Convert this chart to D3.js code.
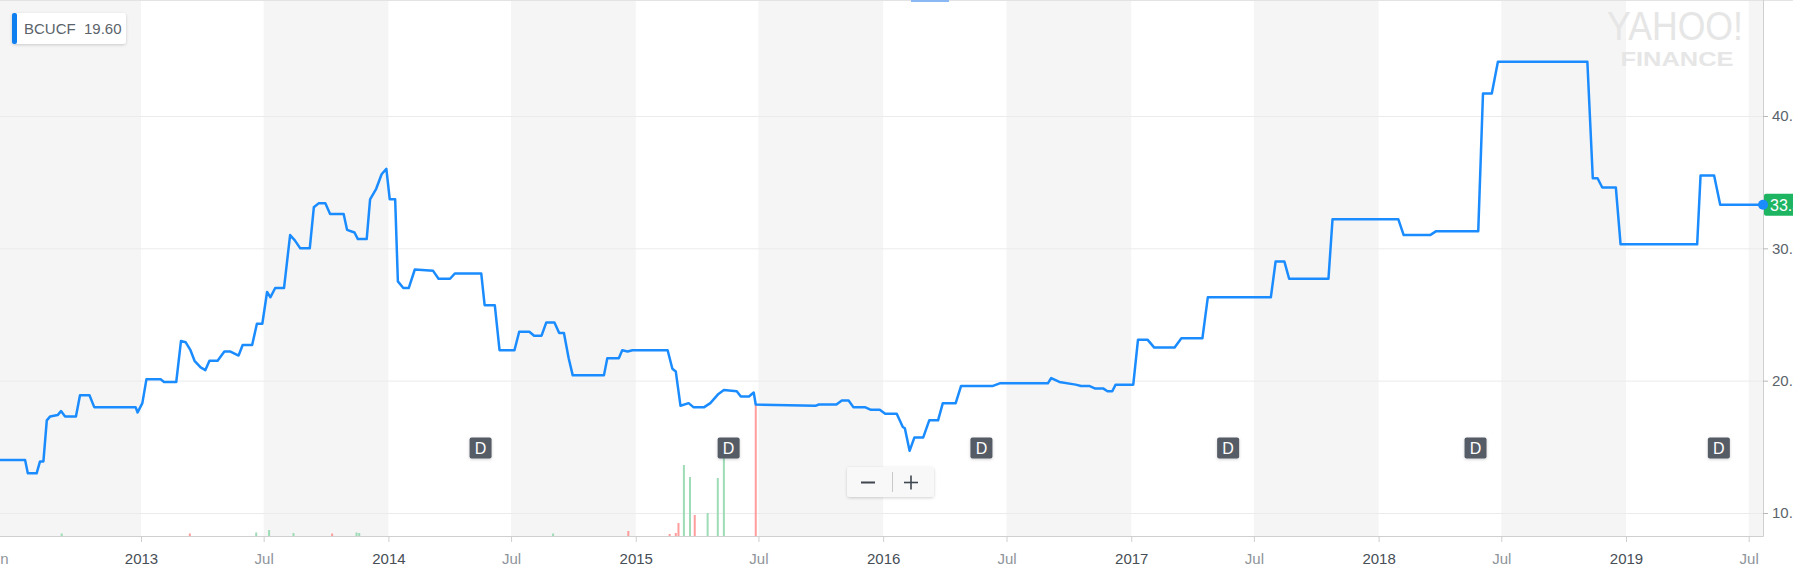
<!DOCTYPE html>
<meta charset="utf-8">
<style>
  body { margin: 0; background: #fff; overflow: hidden; }
  svg { font-family: "Helvetica Neue", Helvetica, Arial, "Liberation Sans", sans-serif; }
</style>
<script src="https://d3js.org/d3.v7.min.js"></script>
<div id="chart"></div>
<script>

  // price (step changes only)
  var priceDates = ["2012-06-07","2012-07-14","2012-07-18","2012-07-31","2012-08-05","2012-08-10","2012-08-15","2012-08-20","2012-08-31","2012-09-05","2012-09-11","2012-09-27","2012-10-03","2012-10-17","2012-10-24","2012-12-24","2012-12-27",
    "2013-01-03","2013-01-09","2013-01-30","2013-02-04","2013-02-22","2013-03-01","2013-03-08","2013-03-15","2013-03-21","2013-03-30","2013-04-06","2013-04-12","2013-04-24","2013-05-04","2013-05-13","2013-05-25","2013-05-31","2013-06-14","2013-06-21","2013-06-29","2013-07-06","2013-07-11","2013-07-18","2013-07-31","2013-08-09","2013-08-16","2013-08-24","2013-09-07","2013-09-13","2013-09-20","2013-09-30","2013-10-07","2013-10-27","2013-11-01","2013-11-12","2013-11-17","2013-11-30","2013-12-05","2013-12-14","2013-12-22","2013-12-29",
    "2014-01-03","2014-01-11","2014-01-15","2014-01-23","2014-01-31","2014-02-09","2014-03-08","2014-03-16","2014-04-02","2014-04-09","2014-05-18","2014-05-23","2014-06-07","2014-06-14","2014-07-06","2014-07-13","2014-07-28","2014-08-04","2014-08-15","2014-08-22","2014-09-03","2014-09-10","2014-09-17","2014-09-24","2014-09-30","2014-11-15","2014-11-20","2014-12-07","2014-12-12","2014-12-20","2014-12-27",
    "2015-02-17","2015-02-24","2015-03-01","2015-03-08","2015-03-20","2015-03-27","2015-04-12","2015-04-21","2015-05-03","2015-05-11","2015-05-30","2015-06-05","2015-06-17","2015-06-24","2015-06-27","2015-09-23","2015-09-28","2015-10-24","2015-11-01","2015-11-11","2015-11-18","2015-12-05","2015-12-14","2015-12-27",
    "2016-01-04","2016-01-21","2016-01-30","2016-02-02","2016-02-09","2016-02-16","2016-02-29","2016-03-09","2016-03-22","2016-03-29","2016-04-17","2016-04-25","2016-06-11","2016-06-21","2016-08-31","2016-09-05","2016-09-17","2016-10-11","2016-10-19","2016-10-31","2016-11-09","2016-11-21","2016-11-27","2016-12-04","2016-12-09",
    "2017-01-04","2017-01-11","2017-01-25","2017-02-04","2017-03-06","2017-03-16","2017-04-16","2017-04-24","2017-07-26","2017-08-02","2017-08-15","2017-08-22","2017-10-19","2017-10-25",
    "2018-01-30","2018-02-07","2018-03-18","2018-03-27","2018-05-28","2018-06-04","2018-06-17","2018-06-26","2018-11-05","2018-11-13","2018-11-20","2018-11-27","2018-12-17","2018-12-24",
    "2019-04-16","2019-04-21","2019-05-11","2019-05-20","2019-07-22"]
  var priceValues = [14.0,14.0,13.0,13.0,13.9,13.9,17.0,17.3,17.4,17.7,17.3,17.3,18.9,18.9,18.0,18.0,17.6,
    18.3,20.1,20.1,19.9,19.9,23.0,22.9,22.3,21.5,21.0,20.8,21.5,21.5,22.2,22.2,21.9,22.7,22.7,24.3,24.3,26.7,26.3,27.0,27.0,31.0,30.6,30.0,30.0,33.1,33.4,33.4,32.6,32.6,31.4,31.2,30.7,30.7,33.7,34.5,35.6,36.0,
    33.7,33.7,27.5,27.0,27.0,28.4,28.3,27.7,27.7,28.1,28.1,25.7,25.7,22.3,22.3,23.7,23.7,23.4,23.4,24.4,24.4,23.6,23.6,21.7,20.4,20.4,21.7,21.7,22.3,22.2,22.3,
    22.3,20.9,20.7,18.1,18.3,18.0,18.0,18.3,19.0,19.3,19.2,18.8,18.8,19.1,18.2,18.1,18.2,18.2,18.5,18.5,18.0,18.0,17.8,17.8,
    17.5,17.5,16.5,16.4,14.7,15.7,15.7,17.0,17.0,18.3,18.3,19.6,19.6,19.8,19.8,20.2,19.9,19.7,19.6,19.6,19.4,19.4,19.2,19.2,19.7,
    19.7,23.1,23.1,22.5,22.5,23.2,23.2,26.3,26.3,29.0,29.0,27.7,27.7,32.2,
    32.2,31.0,31.0,31.3,31.3,41.7,41.7,44.1,44.1,35.3,35.3,34.6,34.6,30.3,
    30.3,35.5,35.5,33.3,33.3]

  // volume bars (1 = up day, 0 = down day)
  var volDates = ["2012-09-06","2013-03-14","2013-06-20","2013-07-09","2013-08-14","2013-10-10","2013-11-15","2013-11-19","2014-09-01","2014-12-21",
    "2015-02-20","2015-03-01","2015-03-05","2015-03-13","2015-03-22","2015-03-29","2015-04-17","2015-05-02","2015-05-11","2015-06-27"]
  var volValues = [250,250,350,600,300,250,350,300,250,500,
    200,300,1300,7100,5900,2100,2300,5800,9600,13300]
  var volUp = [1,0,1,1,1,0,1,1,1,0,
    0,0,0,1,1,0,1,1,1,0]

  var dividendDates = ["2014-05-17","2015-05-18","2016-05-25","2017-05-24","2018-05-24","2019-05-18"]

  var xTickDates = ["2012-06-01","2013-01-01","2013-07-01","2014-01-01","2014-07-01","2015-01-01","2015-07-01","2016-01-01","2016-07-01","2017-01-01","2017-07-01","2018-01-01","2018-07-01","2019-01-01","2019-07-01"]
  var xTickLabels = ["Jun","2013","Jul","2014","Jul","2015","Jul","2016","Jul","2017","Jul","2018","Jul","2019","Jul"]
  var yTicks = [10, 20, 30, 40]

  var symbol = "BCUCF"
  var legendValue = "19.60"
  var lastPrice = 33.3

  var width = 1793, height = 568
  var plotRight = 1763, plotBottom = 536

  var parse = d3.timeParse("%Y-%m-%d")

  var x = d3.scaleTime()
    .domain([parse("2013-01-01"), parse("2019-01-01")])
    .range([141, 1626])
  var y = d3.scaleLinear().domain([10, 40]).range([513, 116])
  var yVol = d3.scaleLinear().domain([0, 14000]).range([plotBottom, plotBottom - 140])

  var svg = d3.select("#chart").append("svg")
    .attr("width", width)
    .attr("height", height)

  var defs = svg.append("defs")
  var sh = defs.append("filter").attr("id", "shadow").attr("x", "-20%").attr("y", "-30%").attr("width", "140%").attr("height", "170%")
  sh.append("feDropShadow").attr("dx", 0).attr("dy", 1).attr("stdDeviation", 1.5).attr("flood-color", "#000").attr("flood-opacity", 0.18)
  defs.append("clipPath").attr("id", "plotclip")
    .append("rect").attr("x", 0).attr("y", 0).attr("width", plotRight).attr("height", plotBottom)

  // alternating bands between tick pairs
  var tickX = xTickDates.map(function(d) { return x(parse(d)) })
  var bandEdges = [0].concat(tickX.slice(1)).concat([plotRight])
  for (var i = 0; i < bandEdges.length - 1; i += 2) {
    svg.append("rect")
      .attr("x", bandEdges[i])
      .attr("y", 0)
      .attr("width", bandEdges[i + 1] - bandEdges[i])
      .attr("height", plotBottom)
      .attr("fill", "#f5f5f5")
  }

  // top rule + little blue tab
  svg.append("line").attr("x1", 0).attr("x2", width).attr("y1", 0.5).attr("y2", 0.5)
    .attr("stroke", "#e3e3e3")
  svg.append("rect").attr("x", 911).attr("y", 0).attr("width", 38).attr("height", 2).attr("fill", "#8ab8f5")

  // watermark
  svg.append("text").attr("x", 1675).attr("y", 40).attr("text-anchor", "middle")
    .attr("font-size", 40).attr("font-weight", 300).attr("fill", "#e6e6e6")
    .attr("textLength", 136).attr("lengthAdjust", "spacingAndGlyphs")
    .text("YAHOO!")
  svg.append("text").attr("x", 1677).attr("y", 66).attr("text-anchor", "middle")
    .attr("font-size", 20).attr("font-weight", "bold").attr("fill", "#e6e6e6")
    .attr("textLength", 113).attr("lengthAdjust", "spacingAndGlyphs")
    .text("FINANCE")

  // horizontal grid
  svg.selectAll(".grid").data(yTicks).enter().append("line")
    .attr("x1", 0).attr("x2", plotRight)
    .attr("y1", function(d) { return y(d) + 0.5 })
    .attr("y2", function(d) { return y(d) + 0.5 })
    .attr("stroke", "#ebebeb")

  // volume
  var vols = volDates.map(function(d, i) { return { date: parse(d), v: volValues[i], up: volUp[i] } })
  svg.append("g").selectAll("rect").data(vols).enter().append("rect")
    .attr("x", function(d) { return x(d.date) - 1 })
    .attr("y", function(d) { return yVol(d.v) })
    .attr("width", 2)
    .attr("height", function(d) { return plotBottom - yVol(d.v) })
    .attr("fill", function(d) { return d.up ? "#9ddcb6" : "#ff9d9d" })

  // price line
  var prices = priceDates.map(function(d, i) { return { date: parse(d), v: priceValues[i] } })
  var line = d3.line()
    .x(function(d) { return x(d.date) })
    .y(function(d) { return y(d.v) })
  svg.append("path")
    .datum(prices)
    .attr("clip-path", "url(#plotclip)")
    .attr("d", line)
    .attr("fill", "none")
    .attr("stroke", "#1a8cff")
    .attr("stroke-width", 2.5)
    .attr("stroke-linejoin", "round")

  // dividend markers
  var divs = svg.append("g").selectAll("g").data(dividendDates).enter().append("g")
    .attr("transform", function(d) { return "translate(" + x(parse(d)) + ",448)" })
  divs.append("rect")
    .attr("x", -11).attr("y", -10.5).attr("width", 22).attr("height", 21).attr("rx", 2)
    .attr("fill", "#545b66").attr("filter", "url(#shadow)")
  divs.append("text")
    .attr("text-anchor", "middle").attr("y", 6)
    .attr("font-size", 16).attr("fill", "#fff")
    .text("D")

  // axes frame
  svg.append("line").attr("x1", 0).attr("x2", plotRight + 0.5).attr("y1", plotBottom + 0.5).attr("y2", plotBottom + 0.5)
    .attr("stroke", "#cfcfcf")
  svg.append("line").attr("x1", plotRight + 0.5).attr("x2", plotRight + 0.5).attr("y1", 0).attr("y2", plotBottom + 0.5)
    .attr("stroke", "#cfcfcf")

  // x axis
  var xAxis = d3.axisBottom(x)
    .tickValues(xTickDates.map(parse))
    .tickSize(6)
    .tickFormat(function(d, i) { return xTickLabels[i] })
  var gx = svg.append("g").attr("transform", "translate(0," + plotBottom + ")").call(xAxis)
  gx.select(".domain").remove()
  gx.selectAll(".tick line").attr("stroke", "#cfcfcf")
  gx.selectAll(".tick text")
    .attr("y", 17)
    .attr("font-size", 15)
    .attr("font-family", null)
    .attr("fill", function(d, i) { return xTickLabels[i] == "Jul" || xTickLabels[i] == "Jun" ? "#8e949a" : "#464e56" })

  // y axis (right)
  var yAxis = d3.axisRight(y)
    .tickValues(yTicks)
    .tickSize(5)
    .tickPadding(4)
    .tickFormat(d3.format(".2f"))
  var gy = svg.append("g").attr("transform", "translate(" + plotRight + ",0)").call(yAxis)
  gy.select(".domain").remove()
  gy.selectAll(".tick line").attr("stroke", "#b8b8b8")
  gy.selectAll(".tick text")
    .attr("font-size", 15)
    .attr("font-family", null)
    .attr("fill", "#5b636a")

  // last price tag
  var py = y(lastPrice)
  svg.append("rect").attr("x", plotRight + 1).attr("y", py - 11).attr("width", 60).attr("height", 22).attr("rx", 2)
    .attr("fill", "#1db462")
  svg.append("text").attr("x", plotRight + 7).attr("y", py + 6)
    .attr("font-size", 16).attr("fill", "#fff")
    .text(lastPrice.toFixed(2))
  svg.append("circle").attr("cx", plotRight).attr("cy", py).attr("r", 5).attr("fill", "#1a8cff")

  // legend chip
  var lg = svg.append("g").attr("transform", "translate(12,13)")
  lg.append("rect").attr("width", 114).attr("height", 31).attr("rx", 3)
    .attr("fill", "#fff").attr("filter", "url(#shadow)")
  lg.append("rect").attr("width", 5).attr("height", 31).attr("rx", 2).attr("fill", "#0f7fef")
  lg.append("text").attr("x", 12).attr("y", 21)
    .attr("font-size", 15).attr("fill", "#5b636a")
    .attr("xml:space", "preserve")
    .text(symbol + "  " + legendValue)

  // zoom buttons
  var zb = svg.append("g").attr("transform", "translate(847,467)")
  zb.append("rect").attr("width", 87).attr("height", 30).attr("rx", 3)
    .attr("fill", "#f8f8f8").attr("filter", "url(#shadow)")
  zb.append("line").attr("x1", 45.5).attr("x2", 45.5).attr("y1", 5).attr("y2", 25).attr("stroke", "#c8c8c8")
  zb.append("line").attr("x1", 14).attr("x2", 28).attr("y1", 15.5).attr("y2", 15.5).attr("stroke", "#3f464f").attr("stroke-width", 2)
  zb.append("line").attr("x1", 57).attr("x2", 71).attr("y1", 15.5).attr("y2", 15.5).attr("stroke", "#3f464f").attr("stroke-width", 1.6)
  zb.append("line").attr("x1", 64).attr("x2", 64).attr("y1", 8.5).attr("y2", 22.5).attr("stroke", "#3f464f").attr("stroke-width", 1.6)

</script>
